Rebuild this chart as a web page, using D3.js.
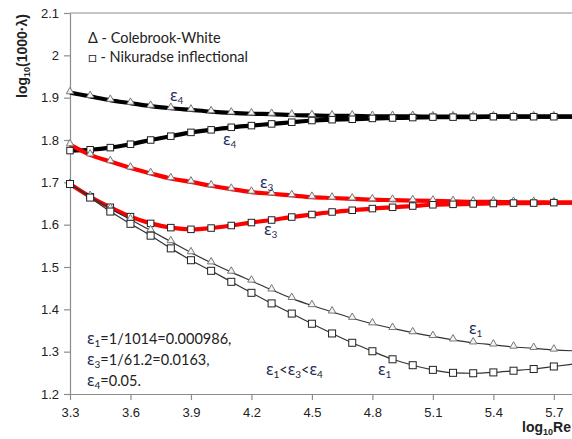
<!DOCTYPE html>
<html><head><meta charset="utf-8">
<script src="https://cdn.jsdelivr.net/npm/d3@7"></script>
<style>body{margin:0;background:#fff}svg{display:block}</style>
</head><body>
<script>
const logRe = [3.3,3.4,3.5,3.6,3.7,3.8,3.9,4.0,4.1,4.2,4.3,4.4,4.5,4.6,4.7,4.8,4.9,5.0,5.1,5.2,5.3,5.4,5.5,5.6,5.7,5.8];
const eps4CW  = [1.912,1.903,1.894,1.887,1.880,1.875,1.871,1.867,1.864,1.862,1.861,1.859,1.858,1.857,1.857,1.856,1.856,1.856,1.855,1.855,1.855,1.855,1.855,1.855,1.855,1.855];
const eps4Nik = [1.775,1.777,1.782,1.790,1.800,1.809,1.818,1.824,1.830,1.834,1.838,1.842,1.846,1.848,1.849,1.851,1.852,1.853,1.854,1.854,1.854,1.855,1.855,1.855,1.855,1.855];
const eps3CW  = [1.789,1.765,1.749,1.734,1.721,1.709,1.701,1.692,1.684,1.677,1.673,1.669,1.665,1.663,1.661,1.659,1.658,1.657,1.656,1.655,1.654,1.654,1.653,1.653,1.652,1.652];
const eps3Nik = [1.696,1.666,1.641,1.619,1.603,1.593,1.589,1.592,1.598,1.605,1.611,1.618,1.624,1.630,1.634,1.638,1.641,1.644,1.647,1.648,1.649,1.650,1.651,1.651,1.652,1.652];
const eps1CW  = [1.696,1.667,1.638,1.612,1.586,1.560,1.534,1.510,1.488,1.467,1.446,1.426,1.409,1.394,1.379,1.366,1.355,1.345,1.336,1.328,1.321,1.316,1.311,1.308,1.304,1.302];
const eps1Nik = [1.696,1.664,1.631,1.602,1.574,1.544,1.516,1.491,1.465,1.439,1.414,1.390,1.366,1.343,1.321,1.301,1.282,1.268,1.257,1.250,1.249,1.251,1.255,1.259,1.265,1.271];
const xTicks = [3.3,3.6,3.9,4.2,4.5,4.8,5.1,5.4,5.7];
const yTicks = [1.2,1.3,1.4,1.5,1.6,1.7,1.8,1.9,2.0,2.1];

const W = 572, H = 439;
const svg = d3.select("body").append("svg").attr("width", W).attr("height", H);
const x = d3.scaleLinear().domain([3.3, 5.8]).range([70, 574]);
const y = d3.scaleLinear().domain([1.2, 2.1]).range([394, 13]);
const axisColor = "#8c8c8c";
const tickFont = "'Liberation Sans', Arial, sans-serif";
const txtFont = "Lato, 'Open Sans', sans-serif";
const greekFont = "'Noto Sans', 'Open Sans', sans-serif";
const epsColor = "#1f2d5c";

// top border
svg.append("line").attr("x1", 70).attr("x2", W).attr("y1", y(2.1)).attr("y2", y(2.1))
  .attr("stroke", axisColor).attr("stroke-width", 1.2);

const xAxis = svg.append("g").attr("transform", `translate(0,${y(1.2)})`)
  .call(d3.axisBottom(x).tickValues(xTicks).tickFormat(d3.format(".1f")).tickSize(6).tickSizeOuter(0));
const yAxis = svg.append("g").attr("transform", `translate(${x(3.3)},0)`)
  .call(d3.axisLeft(y).tickValues(yTicks).tickFormat(d => d === 2 ? "2" : d3.format(".1f")(d)).tickSize(6).tickSizeOuter(0));
[xAxis, yAxis].forEach(g => {
  g.select(".domain").attr("stroke", axisColor).attr("stroke-width", 1.2);
  g.selectAll(".tick line").attr("stroke", axisColor).attr("stroke-width", 1.2);
  g.selectAll(".tick text").attr("fill", "#222").attr("font-family", tickFont).attr("font-size", 13);
});
xAxis.selectAll(".tick text").attr("dy", "1.05em");
yAxis.selectAll(".tick text").attr("x", -11);

// axis titles
const yt = svg.append("text").attr("transform", `translate(27,56) rotate(-90)`)
  .attr("text-anchor", "middle").attr("font-family", tickFont).attr("font-weight", "bold")
  .attr("font-size", 14).attr("fill", "#222");
yt.append("tspan").text("log");
yt.append("tspan").attr("font-size", 9).attr("dy", 3).text("10");
yt.append("tspan").attr("dy", -3).text("(1000·λ)");

const xt = svg.append("text").attr("x", 571).attr("y", 432).attr("text-anchor", "end")
  .attr("font-family", tickFont).attr("font-weight", "bold").attr("font-size", 14).attr("fill", "#222");
xt.append("tspan").text("log");
xt.append("tspan").attr("font-size", 9).attr("dy", 3).text("10");
xt.append("tspan").attr("dy", -3).text("Re");

const series = [
  {v: eps4CW,  color: "#000", w: 4.2, m: "tri"},
  {v: eps4Nik, color: "#000", w: 4.2, m: "sq"},
  {v: eps3CW,  color: "#ff0000", w: 4.2, m: "tri"},
  {v: eps3Nik, color: "#ff0000", w: 4.2, m: "sq"},
  {v: eps1CW,  color: "#333", w: 1.2, m: "tri"},
  {v: eps1Nik, color: "#333", w: 1.2, m: "sq"}
];
const line = d3.line().x((d, i) => x(logRe[i])).y(d => y(d)).curve(d3.curveMonotoneX);
series.forEach(s => {
  svg.append("path").attr("d", line(s.v)).attr("fill", "none")
    .attr("stroke", s.color).attr("stroke-width", s.w).attr("stroke-linejoin", "round");
});
const triPath = d3.symbol().type(d3.symbolTriangle).size(24);
series.forEach(s => {
  const pts = s.v.map((d, i) => [logRe[i], d]).filter(p => p[0] <= 5.75);
  if (s.m === "tri") {
    svg.append("g").selectAll("path").data(pts).join("path")
      .attr("d", triPath()).attr("transform", p => `translate(${x(p[0])},${y(p[1]) - 1})`)
      .attr("fill", "#f4f4f4").attr("stroke", "#777").attr("stroke-width", 1);
  } else {
    const sz = s.w > 2 ? 6.5 : 7;
    svg.append("g").selectAll("rect").data(pts).join("rect")
      .attr("x", p => x(p[0]) - sz / 2).attr("y", p => y(p[1]) - sz / 2)
      .attr("width", sz).attr("height", sz)
      .attr("fill", "#fff").attr("stroke", "#222").attr("stroke-width", 1);
  }
});

// labels
function epsTspans(t, sub, after) {
  t.append("tspan").attr("font-family", greekFont).attr("font-size", 16).attr("fill", epsColor).text("ε");
  t.append("tspan").attr("font-size", 10).attr("dy", 3).text(sub);
  if (after) t.append("tspan").attr("dy", -3).text(after);
}
function epsLabel(px, py, sub) {
  const t = svg.append("text").attr("x", px).attr("y", py).attr("font-family", txtFont)
    .attr("font-size", 15).attr("fill", epsColor);
  epsTspans(t, sub);
}
epsLabel(170, 101, "4");
epsLabel(223, 145, "4");
epsLabel(260, 188, "3");
epsLabel(264, 235, "3");
epsLabel(469, 334, "1");
epsLabel(378, 375, "1");

// legend
const lg = [["Δ - Colebrook-White", 43], ["□ - Nikuradse inflectional", 62]];
lg.forEach(([t, py]) => svg.append("text").attr("x", 88).attr("y", py).attr("font-family", txtFont)
  .attr("font-size", 14.5).attr("fill", "#222").text(t));

// eps definitions
const defs = [["1", "=1/1014=0.000986,", 344], ["3", "=1/61.2=0.0163,", 365], ["4", "=0.05.", 386]];
defs.forEach(([s, rest, py]) => {
  const t = svg.append("text").attr("x", 87).attr("y", py).attr("font-family", txtFont)
    .attr("font-size", 14.5).attr("fill", "#222");
  epsTspans(t, s, rest);
});
const ineq = svg.append("text").attr("x", 266).attr("y", 375).attr("font-family", txtFont)
  .attr("font-size", 14.5).attr("fill", "#222");
epsTspans(ineq, "1", "<");
epsTspans(ineq, "3", "<");
epsTspans(ineq, "4");
</script>
</body></html>
